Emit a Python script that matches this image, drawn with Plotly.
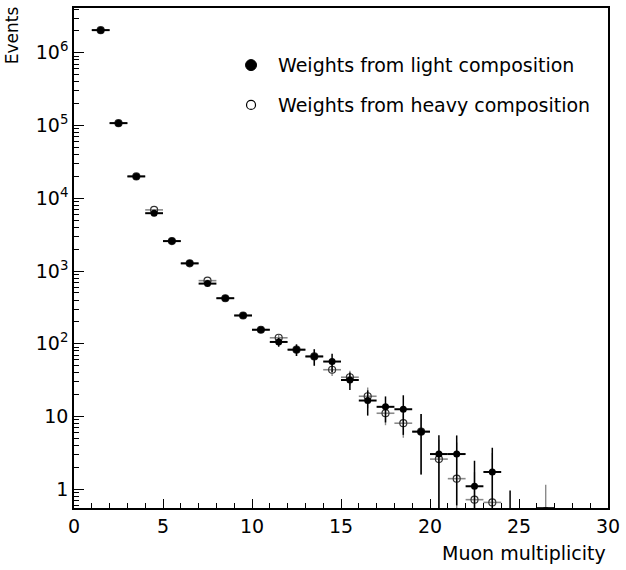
import plotly.graph_objects as go
import math

# ---- data ----
mult = [1.5, 2.5, 3.5, 4.5, 5.5, 6.5, 7.5, 8.5, 9.5, 10.5, 11.5, 12.5, 13.5,
        14.5, 15.5, 16.5, 17.5, 18.5, 19.5, 20.5, 21.5, 22.5, 23.5, 24.5, 26.5]
light = [2.05e6, 1.08e5, 2.0e4, 6240, 2580, 1275, 672, 423, 245, 156, 106, 83, 67,
         57, 31.8, 16.6, 13.6, 12.6, 6.2, 3.05, 3.05, 1.10, 1.73, 0.45, 0.55]
light_err = [1.2e4, 2.5e3, 600, 150, 60, 40, 20, 15, 8, 10, 15, 15, 17,
             16, 8.6, 6.3, 5.3, 7.0, 4.6, 2.5, 2.45, 1.37, 2.0, 0.51, 0]
heavy = [2.05e6, 1.08e5, 2.0e4, 6930, 2580, 1275, 738, 423, 245, 156, 121, 83, 67,
         44, 34.7, 19.0, 11.1, 8.1, 6.2, 2.6, 1.40, 0.72, 0.66, None, 0.5]
heavy_err = [1.2e4, 2.5e3, 600, 150, 60, 40, 20, 15, 8, 10, 12, 15, 17,
             8, 8, 6, 3.5, 3.0, 4.6, 2.2, 3.0, 1.0, 2.5, None, 0.65]
bin_half = [0.5] * len(mult)

legend_labels = ["Weights from light composition", "Weights from heavy composition"]
x_title = "Muon multiplicity"
y_title = "Events"
y_major = [1, 10, 100, 1e3, 1e4, 1e5, 1e6]
y_major_text = ["1", "10", "10<sup>2</sup>", "10<sup>3</sup>", "10<sup>4</sup>",
                "10<sup>5</sup>", "10<sup>6</sup>"]

FONT = "DejaVu Sans"

# the last light bin sits on the lower edge: only its bin bar shows
light_marker_size = [7] * (len(mult) - 1) + [0]

fig = go.Figure()

fig.add_trace(go.Scatter(
    x=mult, y=heavy, mode="markers",
    marker=dict(symbol="circle-open", size=7, color="#333333", line=dict(width=1.2)),
    error_x=dict(type="data", array=bin_half, width=0, thickness=1.6, color="#8a8a8a"),
    error_y=dict(type="data", array=heavy_err, width=0, thickness=1.4, color="#8a8a8a"),
    showlegend=False,
))
fig.add_trace(go.Scatter(
    x=mult, y=light, mode="markers",
    marker=dict(symbol="circle", size=light_marker_size, color="black",
                opacity=1, line=dict(width=0)),
    error_x=dict(type="data", array=bin_half, width=0, thickness=2, color="black"),
    error_y=dict(type="data", array=light_err, width=0, thickness=1.5, color="black"),
    showlegend=False,
))

minor_vals = [k * 10 ** n for n in range(-1, 7) for k in range(2, 10)]

L, R, T, B = 74, 16, 6, 62
W, H = 626, 570
pw, ph = W - L - R, H - T - B

def px_x(p):
    return (p - L) / pw

def px_y(p):
    return (H - B - p) / ph

fig.update_layout(
    width=W, height=H,
    margin=dict(l=L, r=R, t=T, b=B),
    paper_bgcolor="white", plot_bgcolor="white",
    font=dict(family=FONT, size=19, color="black"),
    xaxis=dict(range=[0, 30], tick0=0, dtick=5, ticks="inside", ticklen=9,
               tickwidth=1, tickcolor="black", showline=True, linecolor="black",
               linewidth=1.5, mirror=True, showgrid=False, zeroline=False,
               minor=dict(dtick=1, ticks="inside", ticklen=5, tickcolor="black",
                          tickwidth=1, showgrid=False),
               tickfont=dict(family=FONT, size=19)),
    yaxis=dict(type="log", range=[math.log10(0.553), 6.616],
               tickvals=y_major, ticktext=y_major_text, ticks="inside", ticklen=10,
               tickwidth=1, tickcolor="black", showline=True, linecolor="black",
               linewidth=1.5, mirror=True, showgrid=False, zeroline=False,
               minor=dict(tickvals=minor_vals, ticks="inside", ticklen=5,
                          tickcolor="black", tickwidth=1, showgrid=False),
               tickfont=dict(family=FONT, size=19)),
)

# legend drawn manually to match the reference
fig.add_shape(type="circle", xref="paper", yref="paper", xsizemode="pixel",
              ysizemode="pixel", xanchor=px_x(251.7), yanchor=px_y(63.3),
              x0=-5.5, x1=5.5, y0=-5.5, y1=5.5, fillcolor="black",
              line=dict(color="black", width=1))
fig.add_shape(type="circle", xref="paper", yref="paper", xsizemode="pixel",
              ysizemode="pixel", xanchor=px_x(251.7), yanchor=px_y(103.3),
              x0=-4.5, x1=4.5, y0=-4.5, y1=4.5, fillcolor="white",
              line=dict(color="black", width=1.2))
for lab, py in zip(legend_labels, [63.3, 103.3]):
    fig.add_annotation(text=lab, xref="paper", yref="paper", x=px_x(276.7),
                       y=px_y(py), xanchor="left", yanchor="middle",
                       showarrow=False, font=dict(family=FONT, size=19))

fig.add_annotation(text=x_title, xref="paper", yref="paper", x=1.0,
                   y=px_y(553), xanchor="right", yanchor="middle", showarrow=False,
                   font=dict(family=FONT, size=19))
fig.add_annotation(text=y_title, xref="paper", yref="paper", x=px_x(12),
                   y=px_y(2), xanchor="center", yanchor="top", textangle=-90,
                   showarrow=False, font=dict(family=FONT, size=17))

fig.write_html("out.html")
